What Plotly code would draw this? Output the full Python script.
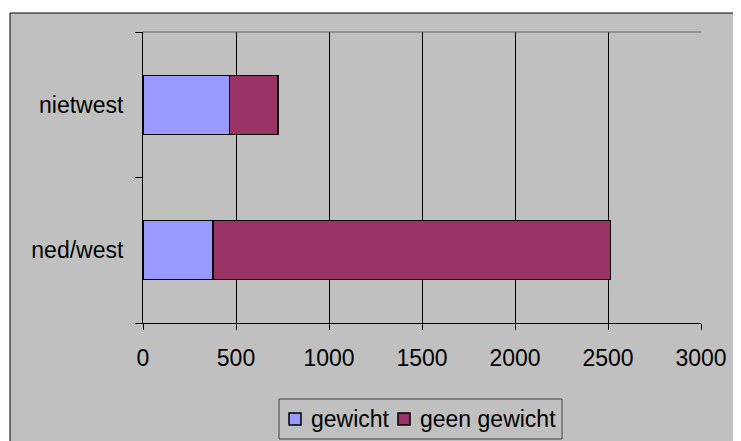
import plotly.graph_objects as go

# data
categories = ["ned/west", "nietwest"]
gewicht = [376, 465]
geen_gewicht = [2136, 261]

series_names = ["gewicht", "geen gewicht"]
series_colors = ["#9999FF", "#993366"]

grijs = "#C0C0C0"
fnt = "Liberation Sans, Arial, sans-serif"

# the page body has a margin of 8px, so the figure is a bit smaller
OFF = 8
FW, FH = 741 - OFF, 441 - OFF
# plot area in screen pixels : x 143..701, y 32..323
L, T = 143 - OFF, 32 - OFF
R, B = 741 - 701, 441 - 323
W, H = FW - L - R, FH - T - B


def px_x(p):
    return (p - OFF - L) / W


def px_y(p):
    return (FH - B - (p - OFF)) / H


fig = go.Figure()
for vals, name, col in zip([gewicht, geen_gewicht], series_names, series_colors):
    fig.add_trace(go.Bar(y=categories, x=vals, name=name, orientation="h",
                         marker=dict(color=col, line=dict(color="black", width=1.2))))

fig.update_layout(
    barmode="stack",
    bargap=0.595,
    width=FW, height=FH,
    margin=dict(l=L, r=R, t=T, b=B, autoexpand=False),
    paper_bgcolor="white",
    plot_bgcolor=grijs,
    font=dict(family=fnt, size=23, color="black"),
    showlegend=False,
)

fig.update_xaxes(range=[0, 3000], dtick=500, showgrid=True, gridcolor="black", gridwidth=1,
                 zeroline=False, showline=True, linecolor="black", linewidth=1,
                 ticks="outside", ticklen=6, tickcolor="black", ticklabelstandoff=8)
fig.update_yaxes(showgrid=False, showline=True, linecolor="black", linewidth=1,
                 ticks="outside", ticklen=7, tickcolor="black", tickson="boundaries",
                 ticklabelstandoff=14)

# outer chart frame (grey, black border)
fig.add_shape(type="rect", xref="paper", yref="paper", layer="below",
              x0=px_x(10), x1=px_x(770), y0=px_y(470), y1=px_y(13),
              fillcolor=grijs, line=dict(color="black", width=1))
# top border of the plot area
fig.add_shape(type="line", xref="paper", yref="paper", x0=0, x1=1, y0=1, y1=1,
              line=dict(color="#606060", width=1))

# legend box like excel
fig.add_shape(type="rect", xref="paper", yref="paper",
              x0=px_x(279), x1=px_x(562), y0=px_y(439), y1=px_y(399),
              fillcolor=grijs, line=dict(color="#404040", width=1))
sym_x = [289, 398]
txt_x = [309, 418]
for name, col, sx, tx in zip(series_names, series_colors, sym_x, txt_x):
    fig.add_shape(type="rect", xref="paper", yref="paper",
                  x0=px_x(sx), x1=px_x(sx + 12), y0=px_y(425), y1=px_y(413),
                  fillcolor=col, line=dict(color="black", width=1.5))
    fig.add_annotation(text=name, xref="paper", yref="paper", x=px_x(tx), y=px_y(419),
                       xanchor="left", yanchor="middle", showarrow=False,
                       font=dict(size=23, family=fnt, color="black"))

fig.write_html("out.html")
